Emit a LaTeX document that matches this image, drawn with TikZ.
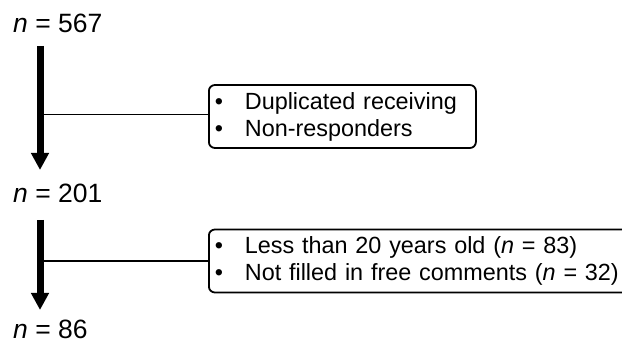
\documentclass[tikz,border=0pt]{standalone}
\usepackage{fontspec}
\setmainfont{Liberation Sans}
\usetikzlibrary{arrows.meta}
\begin{document}
\begin{tikzpicture}[x=1pt,y=-1pt,
  count/.style={anchor=base west, inner sep=0pt, font=\fontsize{26.5}{30}\selectfont},
  flow/.style={line width=7pt, -{Triangle[width=17pt,length=17pt]}},
  branch/.style={line width=1.5pt},
  excl/.style={draw, line width=1.8pt, rounded corners=6pt, anchor=west, align=left,
    inner xsep=6pt, minimum height=63pt, font=\fontsize{23.4}{27}\selectfont}]
\useasboundingbox (0,0) rectangle (622,342);
\clip (0,0) rectangle (622,342);
\node[count] (n1) at (13,33) {\textit{n} = 567};
\node[count] (n2) at (13,203) {\textit{n} = 201};
\node[count] (n3) at (13,338) {\textit{n} = 86};
\coordinate (s1) at (40,46);
\coordinate (t1) at (40,170);
\coordinate (j1) at (40,114.5);
\coordinate (s2) at (40,220);
\coordinate (t2) at (40,310);
\coordinate (j2) at (40,261);
\node[excl, text width=255pt] (b1) at (208,116.5)
  {\makebox[30pt][l]{\textbullet}Duplicated receiving\\
   \makebox[30pt][l]{\textbullet}Non-responders};
\node[excl, text width=428pt] (b2) at (208,261)
  {\makebox[30pt][l]{\textbullet}Less than 20 years old (\textit{n} = 83)\\
   \makebox[30pt][l]{\textbullet}Not filled in free comments (\textit{n} = 32)};
\draw[flow] (s1) -- (t1);
\draw[flow] (s2) -- (t2);
\draw[branch] (j1) -- (j1 -| b1.west);
\draw[branch] (j2) -- (j2 -| b2.west);
\end{tikzpicture}
\end{document}
